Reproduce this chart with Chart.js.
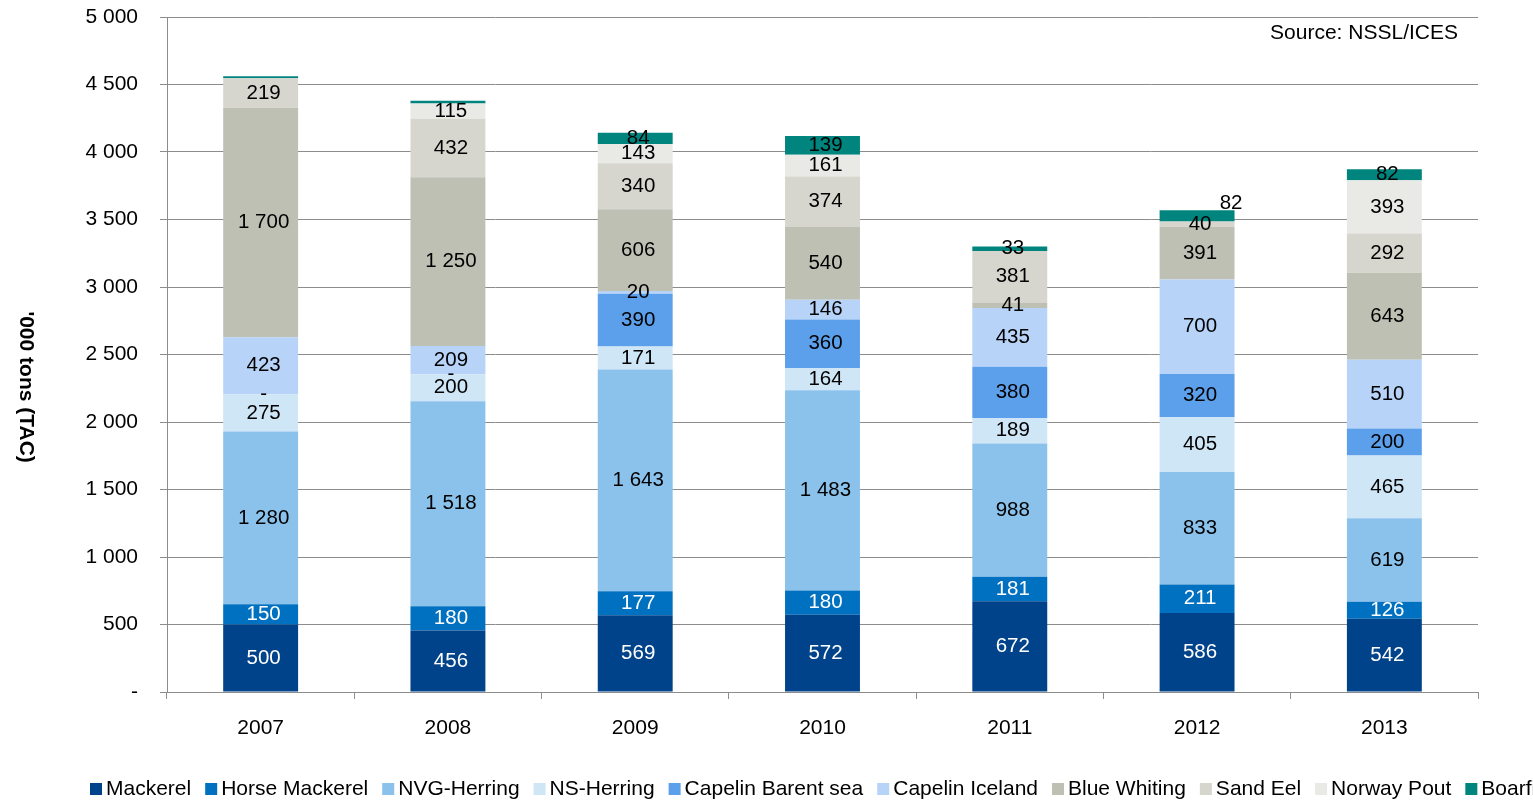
<!DOCTYPE html>
<html lang="en">
<head>
    <meta charset="UTF-8">
    <title>TAC by species</title>
    <script src="https://cdn.jsdelivr.net/npm/chart.js"></script>
    <style>
        html, body { margin: 0; padding: 0; background: #fff; }
        #wrap { width: 1533px; height: 801px; position: relative; }
    </style>
</head>
<body>
<div id="wrap"><canvas id="tacChart"></canvas></div>
<script>
// data ('000 tons, TAC)
const years = ['2007', '2008', '2009', '2010', '2011', '2012', '2013'];
const mackerel       = [500, 456, 569, 572, 672, 586, 542];
const horseMackerel  = [150, 180, 177, 180, 181, 211, 126];
const nvgHerring     = [1280, 1518, 1643, 1483, 988, 833, 619];
const nsHerring      = [275, 200, 171, 164, 189, 405, 465];
const capelinBarents = [0, 0, 390, 360, 380, 320, 200];
const capelinIceland = [423, 209, 20, 146, 435, 700, 510];
const blueWhiting    = [1700, 1250, 606, 540, 41, 391, 643];
const sandEel        = [219, 432, 340, 374, 381, 40, 292];
const norwayPout     = [null, 115, 143, 161, null, null, 393];
const boarfish       = [15, 20, 84, 139, 33, 82, 82];
const yTickLabels = ['-', '500', '1 000', '1 500', '2 000', '2 500', '3 000', '3 500', '4 000', '4 500', '5 000'];

const FONT = '"Liberation Sans", Arial, sans-serif';

function fmt(v) {
    if (v === 0) return '-';
    return String(v).replace(/\B(?=(\d{3})+(?!\d))/g, ' ');
}

const series = [
    { label: 'Mackerel', data: mackerel, color: '#00438A', text: '#fff' },
    { label: 'Horse Mackerel', data: horseMackerel, color: '#0070C0', text: '#fff' },
    { label: 'NVG-Herring', data: nvgHerring, color: '#8AC2EC', text: '#000' },
    { label: 'NS-Herring', data: nsHerring, color: '#CFE6F7', text: '#000' },
    { label: 'Capelin Barent sea', data: capelinBarents, color: '#5C9FEA', text: '#000' },
    { label: 'Capelin Iceland', data: capelinIceland, color: '#B7D3F8', text: '#000' },
    { label: 'Blue Whiting', data: blueWhiting, color: '#BFC0B4', text: '#000' },
    { label: 'Sand Eel', data: sandEel, color: '#D6D6CE', text: '#000' },
    { label: 'Norway Pout', data: norwayPout, color: '#E9E9E5', text: '#000' },
    { label: 'Boarfish', data: boarfish, color: '#00847E', text: '#000' }
];

// labels not printed in the original, and one moved label
const hiddenLabels = { 'Boarfish': [0, 1] };
const labelShift = { 'Boarfish': { 5: [31, -13] } };

const labelPlugin = {
    id: 'segLabels',
    afterDatasetsDraw(chart) {
        const ctx = chart.ctx;
        ctx.save();
        ctx.font = '20.5px ' + FONT;
        ctx.textAlign = 'center';
        ctx.textBaseline = 'middle';
        chart.data.datasets.forEach((ds, di) => {
            const meta = chart.getDatasetMeta(di);
            meta.data.forEach((bar, i) => {
                const v = ds.data[i];
                if (v === null || v === undefined) return;
                if ((hiddenLabels[ds.label] || []).includes(i)) return;
                // excel puts the labels a touch right of the bar centre
                let x = bar.x + 3, y = (bar.y + bar.base) / 2;
                const sh = labelShift[ds.label] && labelShift[ds.label][i];
                if (sh) { x += sh[0]; y += sh[1]; }
                ctx.fillStyle = series[di].text;
                ctx.fillText(fmt(v), x, y);
            });
        });
        ctx.restore();
    }
};

const decorPlugin = {
    id: 'decor',
    afterDraw(chart) {
        const ctx = chart.ctx;
        ctx.save();
        // y title, reads top to bottom
        ctx.font = 'bold 21px ' + FONT;
        ctx.fillStyle = '#000';
        ctx.textAlign = 'center';
        ctx.textBaseline = 'middle';
        ctx.translate(26, 387);
        ctx.rotate(Math.PI / 2);
        ctx.fillText("'000 tons (TAC)", 0, 0);
        ctx.restore();

        ctx.save();
        ctx.font = '21px ' + FONT;
        ctx.fillStyle = '#000';
        ctx.textAlign = 'right';
        ctx.textBaseline = 'middle';
        ctx.fillText('Source: NSSL/ICES', 1458, 33);

        // legend, runs off the right edge like the original
        ctx.textAlign = 'left';
        let x = 90;
        const y = 789;
        series.forEach(s => {
            ctx.fillStyle = s.color;
            ctx.fillRect(x, y - 6, 12, 12);
            ctx.fillStyle = '#000';
            ctx.fillText(s.label, x + 16, y);
            x += 16 + ctx.measureText(s.label).width + 14;
        });
        ctx.restore();
    }
};

const ctx = document.getElementById('tacChart').getContext('2d');
new Chart(ctx, {
    type: 'bar',
    data: {
        labels: years,
        datasets: series.map(s => ({
            label: s.label,
            data: s.data,
            backgroundColor: s.color,
            borderWidth: 0,
            barPercentage: 0.4,
            categoryPercentage: 1.0
        }))
    },
    options: {
        responsive: true,
        maintainAspectRatio: false,
        animation: false,
        layout: { padding: { top: 17, right: 55, left: 0, bottom: 0 } },
        scales: {
            x: {
                stacked: true,
                afterFit: s => { s.height = 109; },
                grid: {
                    offset: true,
                    drawOnChartArea: false,
                    drawTicks: true,
                    tickLength: 7,
                    color: '#8C8C8C'
                },
                border: { color: '#8C8C8C' },
                ticks: {
                    color: '#000',
                    padding: 17,
                    maxRotation: 0,
                    font: { family: FONT, size: 21 }
                }
            },
            y: {
                stacked: true,
                min: 0,
                max: 5000,
                afterFit: s => {
                    s.width = 167;
                    // tick padding would otherwise push the plot area down
                    s.paddingTop = 0;
                    s.paddingBottom = 0;
                },
                grid: {
                    color: '#8C8C8C',
                    tickLength: 7
                },
                border: { color: '#8C8C8C' },
                ticks: {
                    stepSize: 500,
                    color: '#000',
                    padding: 22,
                    font: { family: FONT, size: 21 },
                    callback: (v, i) => yTickLabels[i]
                }
            }
        },
        plugins: {
            legend: { display: false },
            tooltip: { enabled: false }
        }
    },
    plugins: [labelPlugin, decorPlugin]
});
</script>
</body>
</html>
